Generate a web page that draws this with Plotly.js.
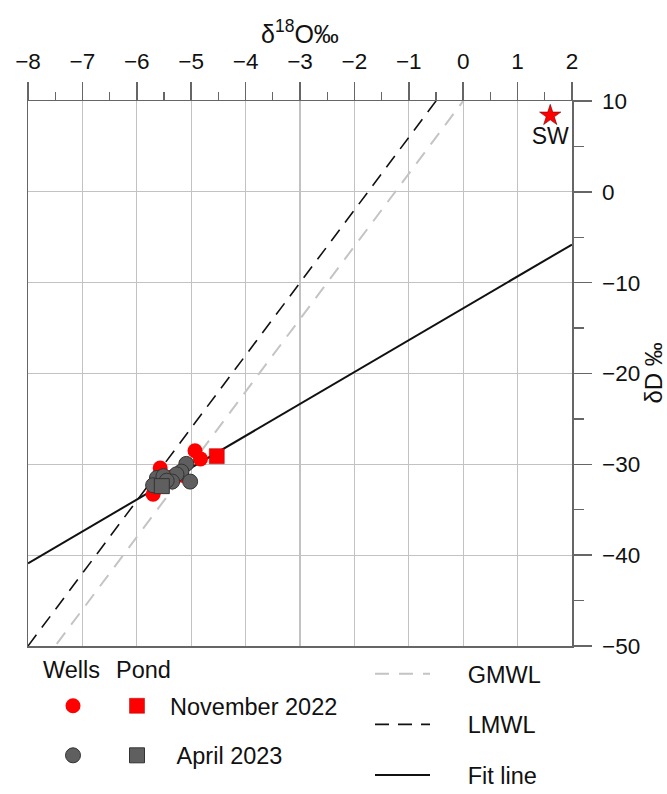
<!DOCTYPE html>
<html><head><meta charset="utf-8">
<script src="https://cdn.plot.ly/plotly-3.0.1.min.js"></script>
<style>html,body{margin:0;padding:0;background:#fff}#chart{width:667px;height:794px}</style>
</head><body><div id="chart"></div>
<script>
// Wells and pond samples (δ18O ‰, δD ‰)
const novWellsX = [-4.93, -4.83, -5.57, -5.70, -5.35, -5.62, -5.17];
const novWellsY = [-28.5, -29.4, -30.4, -33.3, -31.4, -31.9, -31.2];
const novPondX = [-4.53];
const novPondY = [-29.1];
const aprWellsX = [-5.09, -5.18, -5.02, -5.27, -5.63, -5.51, -5.70, -5.35, -5.45];
const aprWellsY = [-29.95, -30.8, -31.9, -31.1, -31.5, -31.3, -32.3, -31.9, -31.8];
const aprPondX = [-5.54];
const aprPondY = [-32.4];
const swX = [1.6];
const swY = [8.4];
const swLabel = ['SW'];
// Reference lines (end points)
const lineX = [-8, 2];
const gmwlY = [-54, 26];
const lmwlY = [-50, 30];
const fitY = [-40.9, -5.8];
// Texts
const xTitle = 'δ<sup>18</sup>O‰';
const yTitle = 'δD ‰';
const legendHeaders = ['Wells', 'Pond'];
const seriesNames = ['November 2022', 'April 2023'];
const lineNames = ['GMWL', 'LMWL', 'Fit line'];

const FONT = 'Liberation Sans, Arial, sans-serif';
const RED = '#ff0000', GREY = '#5f5f5f';
const pad = n => '\u00a0'.repeat(n);

const traces = [
  {x: lineX, y: gmwlY, mode: 'lines', name: pad(5) + lineNames[0], legend: 'legend3', legendgroup: 'g1',
   line: {color: '#c4c4c4', width: 2, dash: '14px,10px'}},
  {x: lineX, y: lmwlY, mode: 'lines', name: pad(5) + lineNames[1], legend: 'legend3', legendgroup: 'g2',
   line: {color: '#111', width: 1.6, dash: '14px,9px'}},
  {x: lineX, y: fitY, mode: 'lines', name: pad(5) + lineNames[2], legend: 'legend3', legendgroup: 'g3',
   line: {color: '#111', width: 2}},
  {x: novWellsX, y: novWellsY, mode: 'markers', name: pad(1), legend: 'legend', legendgroup: 'w1',
   marker: {symbol: 'circle', size: 15, color: RED, line: {width: 0}}},
  {x: aprWellsX, y: aprWellsY, mode: 'markers', name: pad(1), legend: 'legend', legendgroup: 'w2',
   marker: {symbol: 'circle', size: 15, color: GREY, line: {width: 1, color: '#333'}}},
  {x: novPondX, y: novPondY, mode: 'markers', name: pad(2) + seriesNames[0], legend: 'legend2', legendgroup: 'p1',
   marker: {symbol: 'square', size: 15, color: RED, line: {width: 0.5, color: '#a00'}}},
  {x: aprPondX, y: aprPondY, mode: 'markers', name: pad(3) + seriesNames[1], legend: 'legend2', legendgroup: 'p2',
   marker: {symbol: 'square', size: 15, color: GREY, line: {width: 1, color: '#333'}}},
  {x: swX, y: swY, text: swLabel, mode: 'markers+text', textposition: 'bottom center', showlegend: false,
   textfont: {size: 23, color: '#111'},
   marker: {symbol: 'star', size: 16, color: RED, line: {width: 0.6, color: '#700'}}}
];

const legendBase = {
  xref: 'container', yref: 'container', xanchor: 'left', yanchor: 'top',
  bgcolor: 'rgba(0,0,0,0)', borderwidth: 0, font: {size: 23.5, color: '#111', family: FONT},
  itemsizing: 'trace', itemclick: false, itemdoubleclick: false
};

const layout = {
  width: 667, height: 794,
  margin: {l: 28, r: 95, t: 101, b: 148, autoexpand: false},
  paper_bgcolor: '#fff', plot_bgcolor: '#fff',
  font: {family: FONT, size: 22, color: '#111'},
  showlegend: true,
  xaxis: {
    side: 'top', range: [-8, 2], tick0: 0, dtick: 1, zeroline: false,
    showgrid: true, gridcolor: '#c2c2c2', gridwidth: 1.2,
    showline: true, mirror: true, linecolor: '#666', linewidth: 1.5,
    ticks: 'outside', ticklen: 18, tickwidth: 1.5, tickcolor: '#666',
    minor: {dtick: 0.5, ticks: 'outside', ticklen: 8, tickwidth: 1.2, tickcolor: '#666', showgrid: false},
    tickfont: {size: 22.5, color: '#111'}, ticklabelstandoff: 4,
    fixedrange: true
  },
  yaxis: {
    side: 'right', range: [-50, 10], tick0: 0, dtick: 10, zeroline: false,
    showgrid: true, gridcolor: '#c2c2c2', gridwidth: 1.2,
    showline: true, mirror: true, linecolor: '#666', linewidth: 1.5,
    ticks: 'outside', ticklen: 18, tickwidth: 1.5, tickcolor: '#666',
    minor: {dtick: 5, ticks: 'outside', ticklen: 10, tickwidth: 1.2, tickcolor: '#666', showgrid: false},
    tickfont: {size: 22.5, color: '#111'}, ticklabelstandoff: 6,
    fixedrange: true
  },
  legend: Object.assign({}, legendBase, {x: 53 / 667, y: 1 - 684 / 794, tracegroupgap: 16}),
  legend2: Object.assign({}, legendBase, {x: 117 / 667, y: 1 - 684 / 794, tracegroupgap: 16}),
  legend3: Object.assign({}, legendBase, {x: 370 / 667, y: 1 - 652 / 794, tracegroupgap: 17, itemwidth: 55}),
  annotations: [
    {text: xTitle, xref: 'paper', yref: 'paper', x: (300 - 28) / 544, y: (646 - 32) / 545,
     showarrow: false, font: {size: 25}, xanchor: 'center', yanchor: 'middle'},
    {text: yTitle, xref: 'paper', yref: 'paper', x: (653 - 28) / 544, y: 0.5, textangle: -90,
     showarrow: false, font: {size: 24}, xanchor: 'center', yanchor: 'middle'},
    {text: legendHeaders[0], xref: 'paper', yref: 'paper', x: (71 - 28) / 544, y: (646 - 670) / 545,
     showarrow: false, font: {size: 23.5}, xanchor: 'center', yanchor: 'middle'},
    {text: legendHeaders[1], xref: 'paper', yref: 'paper', x: (143 - 28) / 544, y: (646 - 670) / 545,
     showarrow: false, font: {size: 23.5}, xanchor: 'center', yanchor: 'middle'}
  ]
};

Plotly.newPlot('chart', traces, layout, {displayModeBar: false, staticPlot: true});
</script>
</body></html>
